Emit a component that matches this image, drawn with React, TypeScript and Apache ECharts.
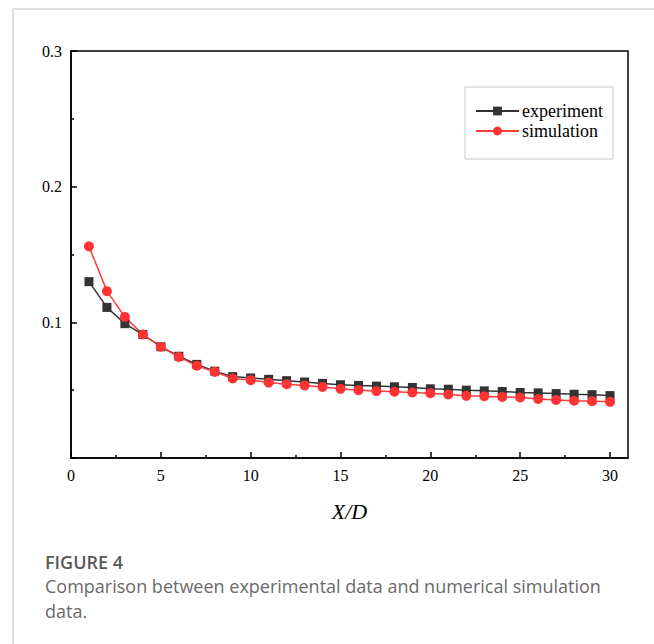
import React, { useEffect, useRef } from "react";
import * as echarts from "echarts";

// Downstream distance X/D
const xValues = [1, 2, 3, 4, 5, 6, 7, 8, 9, 10, 11, 12, 13, 14, 15, 16, 17, 18, 19, 20, 21, 22, 23, 24, 25, 26, 27, 28, 29, 30];

// Measured values
const experiment = [
  0.130, 0.111, 0.099, 0.091, 0.082, 0.075, 0.069, 0.064, 0.060, 0.059,
  0.058, 0.057, 0.056, 0.055, 0.054, 0.0535, 0.053, 0.0525, 0.052, 0.051,
  0.0507, 0.050, 0.0495, 0.049, 0.0483, 0.048, 0.0475, 0.047, 0.0467, 0.046,
];

// Numerical results
const simulation = [
  0.156, 0.123, 0.104, 0.091, 0.082, 0.0745, 0.068, 0.0635, 0.0586, 0.0574,
  0.0556, 0.0544, 0.0535, 0.0524, 0.051, 0.050, 0.0493, 0.0488, 0.0483, 0.0478,
  0.0468, 0.0458, 0.0456, 0.045, 0.0446, 0.0435, 0.0428, 0.0422, 0.0419, 0.0414,
];

const xMajorTicks = [0, 5, 10, 15, 20, 25, 30];
const xMinorTicks = [2.5, 7.5, 12.5, 17.5, 22.5, 27.5];

const captionTitle = "FIGURE 4";
const captionLines = [
  "Comparison between experimental data and numerical simulation",
  "data.",
];

const SERIF = "'Liberation Serif', 'Times New Roman', serif";
const SANS = "'Open Sans', 'Noto Sans', sans-serif";

export default function App() {
  const ref = useRef<HTMLDivElement>(null);

  useEffect(() => {
    if (!ref.current) return;
    const chart = echarts.init(ref.current, undefined, { renderer: "svg" });

    const pair = (ys: number[]) => xValues.map((x, i) => [x, ys[i]]);

    const baseX = {
      type: "value" as const,
      min: 0,
      max: 31,
      splitLine: { show: false },
      axisLine: { show: true, lineStyle: { color: "#000", width: 1.5 } },
    };

    chart.setOption({
      animation: false,
      backgroundColor: "#fff",
      grid: {
        left: 71,
        right: 26,
        top: 51,
        bottom: 186,
        show: true,
        borderColor: "#000",
        borderWidth: 1.5,
        containLabel: false,
      },
      legend: {
        orient: "vertical",
        left: 465,
        top: 87,
        padding: [15, 10, 19, 10],
        borderColor: "#c8c8c8",
        borderWidth: 1,
        itemWidth: 43,
        itemHeight: 11,
        itemGap: 2,
        textStyle: { fontFamily: SERIF, fontSize: 18, color: "#000", padding: [0, 0, 0, -2] },
        data: ["experiment", "simulation"],
      },
      xAxis: [
        {
          ...baseX,
          name: "X/D",
          nameLocation: "middle",
          nameGap: 42,
          nameTextStyle: { fontFamily: SERIF, fontSize: 22, fontStyle: "italic", color: "#000" },
          axisTick: {
            show: true,
            inside: true,
            length: 6,
            customValues: xMajorTicks,
            lineStyle: { color: "#000", width: 1.5 },
          },
          axisLabel: {
            customValues: xMajorTicks,
            fontFamily: SERIF,
            fontSize: 16,
            color: "#000",
            margin: 9,
          },
        },
        {
          ...baseX,
          position: "bottom",
          axisLine: { show: false },
          axisTick: {
            show: true,
            inside: true,
            length: 3,
            customValues: xMinorTicks,
            lineStyle: { color: "#000", width: 1.5 },
          },
          axisLabel: { show: false },
        },
      ],
      yAxis: {
        type: "value",
        min: 0,
        max: 0.3,
        interval: 0.1,
        splitLine: { show: false },
        axisLine: { show: true, lineStyle: { color: "#000", width: 1.5 } },
        axisTick: { show: true, inside: true, length: 6, lineStyle: { color: "#000", width: 1.5 } },
        minorTick: { show: true, splitNumber: 2, length: 3, lineStyle: { color: "#000", width: 1.5 } },
        axisLabel: {
          fontFamily: SERIF,
          fontSize: 16,
          color: "#000",
          margin: 9,
          formatter: (v: number) => (v === 0 ? "" : v.toFixed(1)),
        },
      },
      series: [
        {
          name: "experiment",
          type: "line",
          data: pair(experiment),
          symbol: "rect",
          symbolSize: 9,
          itemStyle: { color: "#333333" },
          lineStyle: { color: "#333333", width: 1.5 },
        },
        {
          name: "simulation",
          type: "line",
          data: pair(simulation),
          symbol: "circle",
          symbolSize: 10,
          itemStyle: { color: "#ff3333" },
          lineStyle: { color: "#ff3b3b", width: 1.5 },
        },
      ],
      graphic: [
        {
          type: "line",
          shape: { x1: 13, y1: 9, x2: 654, y2: 9 },
          style: { stroke: "#d4d4d4", lineWidth: 1.5 },
        },
        {
          type: "line",
          shape: { x1: 13, y1: 9, x2: 13, y2: 644 },
          style: { stroke: "#d4d4d4", lineWidth: 1.5 },
        },
        {
          type: "text",
          left: 45,
          top: 553,
          style: { text: captionTitle, fontFamily: SANS, fontSize: 18, fontWeight: 600, fill: "#595959" },
        },
        {
          type: "text",
          left: 45,
          top: 573,
          style: {
            text: captionLines.join("\n"),
            fontFamily: SANS,
            fontSize: 18,
            lineHeight: 25,
            fill: "#6a6a6a",
          },
        },
      ],
    });

    return () => chart.dispose();
  }, []);

  return (
    <div
      ref={ref}
      style={{ position: "absolute", left: 0, top: 0, width: 654, height: 644 }}
    />
  );
}
